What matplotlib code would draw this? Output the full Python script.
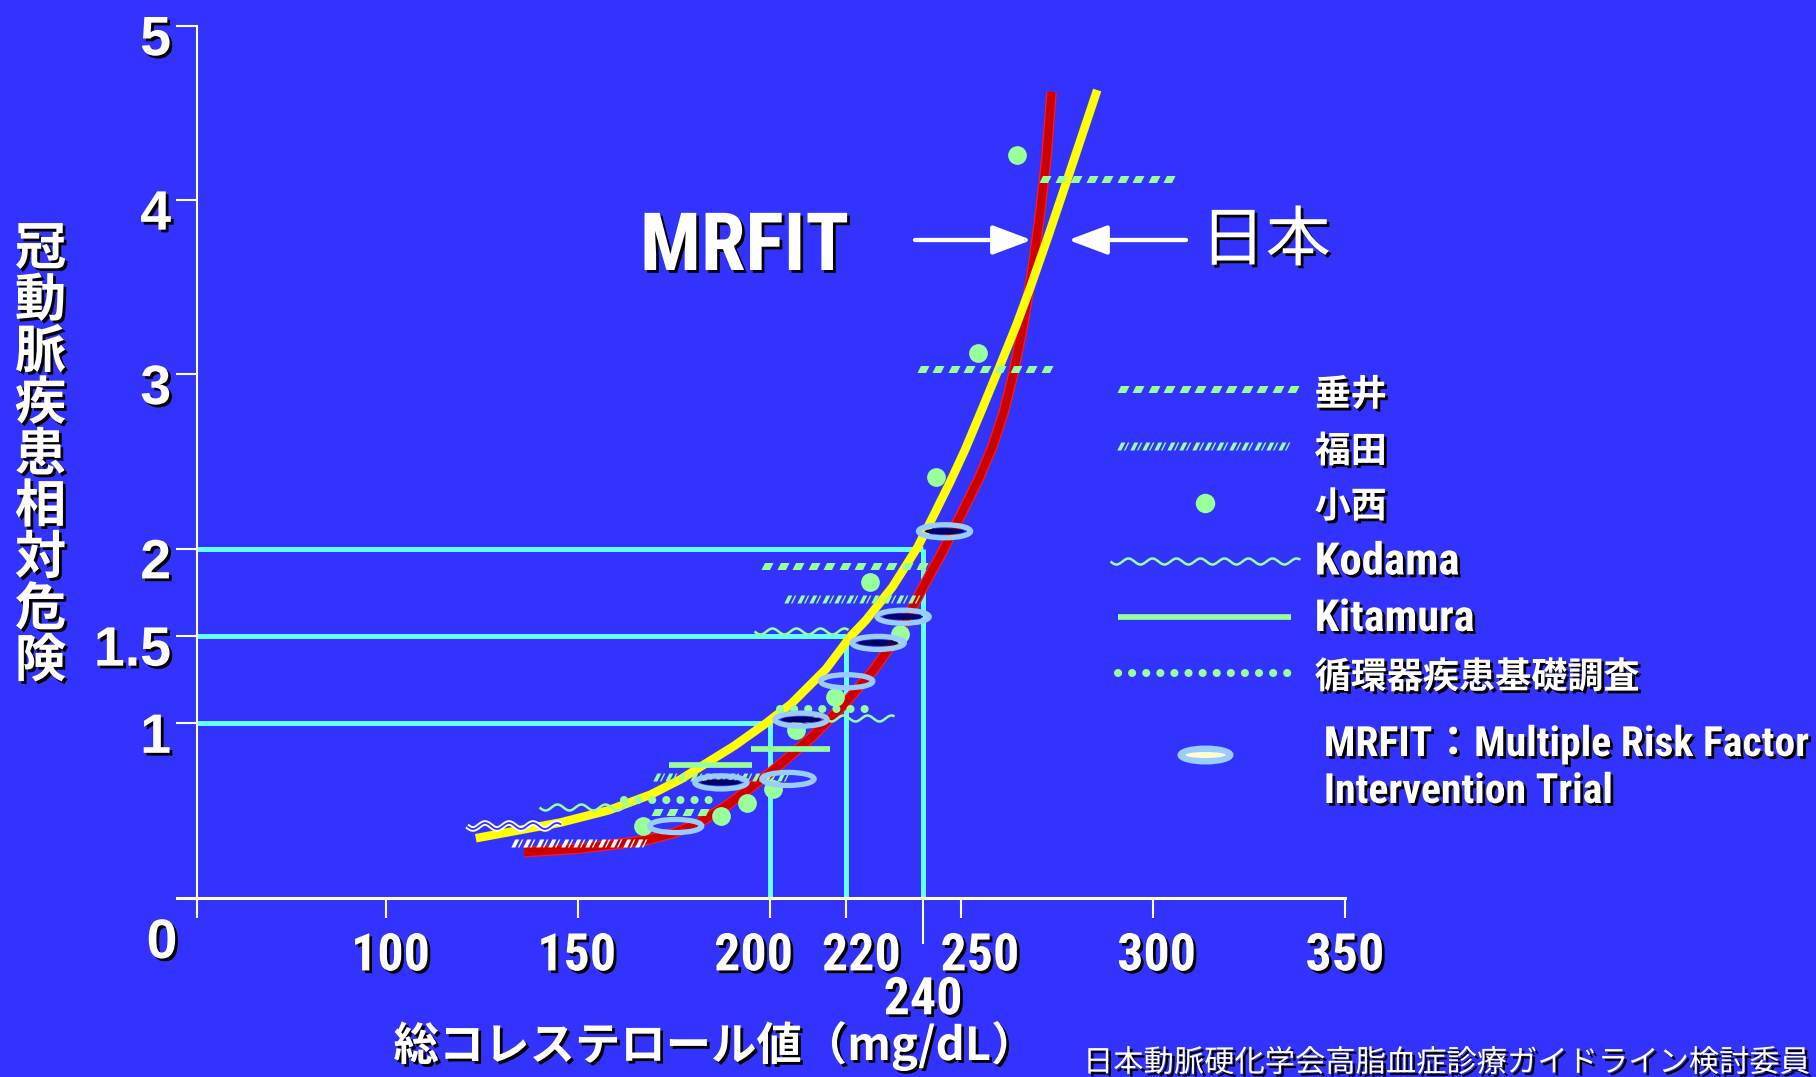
import numpy as np
import matplotlib
matplotlib.use("Agg")
import matplotlib.pyplot as plt
import matplotlib.patheffects as pe
from matplotlib import font_manager as fm
from matplotlib.patches import Ellipse, FancyArrowPatch
from matplotlib.path import Path
from matplotlib.transforms import ScaledTranslation

# -------------------------------
# data
# -------------------------------
# MRFIT curve (red)
mrfit_x = [136, 150, 160, 168, 175, 181, 189, 201, 211, 219.5, 227.3, 233.4, 240, 245, 250,
           254.5, 258, 261, 263.5, 266, 268.5, 270.5, 272.2, 273.5]
mrfit_y = [0.26, 0.28, 0.305, 0.33, 0.37, 0.42, 0.53, 0.73, 0.92, 1.11, 1.31, 1.50, 1.78, 1.98,
           2.20, 2.40, 2.58, 2.78, 3.00, 3.27, 3.60, 3.92, 4.25, 4.62]

# Japan curve (yellow)
japan_x = [123.4, 145.5, 158, 169, 177, 182, 190.8, 199.1, 205.6, 214.7, 221.2, 225.1, 232,
           238.6, 242.5, 247, 251, 255, 259.5, 264.3, 268, 272.6, 277.8, 285.4]
japan_y = [0.34, 0.43, 0.50, 0.59, 0.68, 0.75, 0.87, 1.0, 1.11, 1.31, 1.50, 1.59, 1.78,
           2.01, 2.18, 2.38, 2.57, 2.78, 3.02, 3.28, 3.50, 3.79, 4.13, 4.63]

# MRFIT groups (ellipses)
ring_x = [245.6, 234.8, 228.3, 220.1, 208.2, 204.8, 187.3, 175.5]
ring_y = [2.10, 1.61, 1.46, 1.24, 1.02, 0.68, 0.66, 0.41]
ring_filled = [True, True, True, False, True, False, True, False]

# 垂井
tarui_x0 = [269.8, 237.9, 197.3, 168.6]
tarui_x1 = [304.9, 273.2, 240.0, 183.4]
tarui_y = [4.12, 3.03, 1.90, 0.49]

# 福田 (last one drawn in white on the slide)
fukuda_x0 = [203.8, 169.5, 132.5]
fukuda_x1 = [239.5, 205.5, 169.0]
fukuda_y = [1.71, 0.69, 0.31]
fukuda_col = ["#99ff99", "#99ff99", "white"]

# 小西
konishi_x = [264.6, 254.4, 243.4, 226.2, 234.0, 217.1, 207.0, 200.8, 194.2, 187.3, 167.1]
konishi_y = [4.26, 3.12, 2.41, 1.81, 1.51, 1.15, 0.96, 0.62, 0.54, 0.47, 0.41]

# Kodama (last one white on the slide)
kodama_x0 = [196.0, 208.2, 139.8, 121.1]
kodama_x1 = [220.4, 232.4, 164.2, 145.5]
kodama_y = [1.53, 1.03, 0.52, 0.41]
kodama_col = ["#99ff99", "#99ff99", "#99ff99", "white"]

# Kitamura
kitamura_x0 = [195.2, 173.8]
kitamura_x1 = [215.7, 195.5]
kitamura_y = [0.85, 0.76]

# 循環器疾患基礎調査
junkan_x0 = [202.6, 162.1]
junkan_x1 = [228.0, 187.3]
junkan_y = [1.08, 0.56]

# reference lines
ref_chol = [200, 220, 240]
ref_rr = [1.0, 1.5, 2.0]

xticks = [100, 150, 200, 220, 250, 300, 350]
yticks = [1, 1.5, 2, 3, 4, 5]
ytick_labels = ["1", "1.5", "2", "3", "4", "5"]

# -------------------------------
# style
# -------------------------------
BG = "#3333ff"
GREEN = "#99ff99"
CYAN = "#66ffff"
RING = "#99ccff"
NAVY = "#000066"

_installed = {f.name for f in fm.fontManager.ttflist}
_cond = [n for n in ["Liberation Sans Narrow", "Arial Narrow", "Roboto Condensed",
                     "Noto Sans Condensed", "Open Sans Condensed"] if n in _installed]
NARROW = _cond[:1] + ["Liberation Sans", "Noto Sans CJK JP"]
ARIAL = ["Liberation Sans", "Noto Sans CJK JP"]
CJK = ["Noto Sans CJK JP", "DejaVu Sans"]
plt.rcParams["font.family"] = ARIAL

shadow = [pe.SimplePatchShadow(offset=(2, -2), shadow_rgbFace="black", alpha=1.0), pe.Normal()]

W, H = 1816, 1077
fig = plt.figure(figsize=(W / 100, H / 100), dpi=100, facecolor=BG)
ax = fig.add_axes([176.6 / W, 1 - 916.7 / H, (1345 - 176.6) / W, (916.7 - 25.5) / H])
ax.set_facecolor(BG)
ax.set_xlim(45.4, 350)
ax.set_ylim(-0.11, 5.0)
PX_PER_X = (1345 - 176.6) / (350 - 45.4)   # pixels per mg/dL

ax.spines["top"].set_visible(False)
ax.spines["right"].set_visible(False)
ax.spines["left"].set_position(("data", 50.7))
ax.spines["left"].set_color("white")
ax.spines["left"].set_linewidth(1.5)
ax.spines["bottom"].set_position(("data", 0))
ax.spines["bottom"].set_color("#ffffcc")
ax.spines["bottom"].set_linewidth(2.2)

ax.set_xticks(xticks)
ax.set_xticklabels([str(v) for v in xticks])
ax.set_xticks([240], minor=True)
ax.set_xticklabels(["240"], minor=True)
ax.set_yticks(yticks)
ax.set_yticklabels(ytick_labels)
ax.tick_params(axis="x", which="major", direction="out", length=14.4, width=1.5, color="white",
               pad=10, labelcolor="white", labelsize=38)
ax.tick_params(axis="x", which="minor", direction="out", length=33, width=1.5, color="white",
               pad=23, labelcolor="white", labelsize=38)
ax.tick_params(axis="y", direction="out", length=15, width=1.5, color="white",
               pad=3.6, labelcolor="white", labelsize=40)

# on the slide the crowded labels are nudged sideways (pixels)
xlabel_shift = [4.6, -1, -16, 15, 18.5, 3.5, 0]
xlabels = ax.get_xticklabels() + ax.get_xticklabels(minor=True)
for lbl, sh in zip(xlabels, xlabel_shift + [0]):
    lbl.set_fontfamily(NARROW)
    lbl.set_fontweight("bold")
    lbl.set_path_effects(shadow)
    lbl.set_transform(lbl.get_transform() + ScaledTranslation(sh / 100, 0, fig.dpi_scale_trans))
dy = ScaledTranslation(0, -7 / 72, fig.dpi_scale_trans)
for lbl in ax.get_yticklabels():
    lbl.set_fontweight("bold")
    lbl.set_path_effects(shadow)
    lbl.set_transform(lbl.get_transform() + dy)

# reference lines at 200/220/240
for c, r in zip(ref_chol, ref_rr):
    ax.plot([50.7, c], [r, r], color=CYAN, lw=3.6, solid_capstyle="butt", zorder=1)
    ax.plot([c, c], [0, r], color=CYAN, lw=3.6, solid_capstyle="butt", zorder=1)

# curves
ax.plot(mrfit_x, mrfit_y, color="#ff1a1a", lw=7.6, solid_capstyle="butt", solid_joinstyle="round", zorder=2)
ax.plot(mrfit_x, mrfit_y, color="#cc0000", lw=5.8, solid_capstyle="butt", solid_joinstyle="round", zorder=2)
ax.plot(japan_x, japan_y, color="#ffff00", lw=6.2, solid_capstyle="butt", solid_joinstyle="round", zorder=3)

# slash glyphs for the 垂井 / 福田 line styles (pixel units)
TARUI_MARK = Path([(-6, -3.5), (2.5, -3.5), (6, 3.5), (-2.5, 3.5), (-6, -3.5)],
                  [Path.MOVETO, Path.LINETO, Path.LINETO, Path.LINETO, Path.CLOSEPOLY])
FUKUDA_MARK = Path([(-6.2, -4), (-2.2, -4), (1.8, 4), (-2.2, 4), (-6.2, -4),
                    (0.4, -4), (1.9, -4), (5.9, 4), (4.4, 4), (0.4, -4)],
                   [Path.MOVETO, Path.LINETO, Path.LINETO, Path.LINETO, Path.CLOSEPOLY] * 2)


def slash_line(a, x0, x1, y, color, mark, size_px, step_px, ppx):
    xs = np.arange(x0 + step_px / 2 / ppx, x1, step_px / ppx)
    a.plot(xs, np.full(len(xs), y), ls="none", marker=mark, ms=size_px * 0.72,
           color=color, mec="none", zorder=4)


def tarui_mark(a, x0, x1, y, ppx):
    slash_line(a, x0, x1, y, GREEN, TARUI_MARK, 12, 15.5, ppx)


def fukuda_mark(a, x0, x1, y, color, ppx):
    slash_line(a, x0, x1, y, color, FUKUDA_MARK, 12.4, 12.4, ppx)


def kodama_mark(a, x0, x1, y, color):
    if color == "white":
        ln, = a.plot([x0, x1], [y, y], color="white", lw=4.0, solid_capstyle="butt", zorder=4)
        ln.set_sketch_params(scale=3, length=24, randomness=1)
        ln, = a.plot([x0, x1], [y, y], color=BG, lw=1.3, solid_capstyle="butt", zorder=4)
        ln.set_sketch_params(scale=3, length=24, randomness=1)
    else:
        ln, = a.plot([x0, x1], [y, y], color=color, lw=1.8, solid_capstyle="butt", zorder=4)
        ln.set_sketch_params(scale=3, length=24, randomness=1)


def junkan_mark(a, x0, x1, y):
    a.plot([x0, x1], [y, y], color=GREEN, lw=5.8, dashes=(0.01, 1.74), dash_capstyle="round", zorder=4)


def kitamura_mark(a, x0, x1, y):
    a.plot([x0, x1], [y, y], color=GREEN, lw=4.1, solid_capstyle="butt", zorder=4)


for x0, x1, y in zip(tarui_x0, tarui_x1, tarui_y):
    tarui_mark(ax, x0, x1, y, PX_PER_X)
for x0, x1, y, c in zip(fukuda_x0, fukuda_x1, fukuda_y, fukuda_col):
    fukuda_mark(ax, x0, x1, y, c, PX_PER_X)
for x0, x1, y, c in zip(kodama_x0, kodama_x1, kodama_y, kodama_col):
    kodama_mark(ax, x0, x1, y, c)
for x0, x1, y in zip(kitamura_x0, kitamura_x1, kitamura_y):
    kitamura_mark(ax, x0, x1, y)
for x0, x1, y in zip(junkan_x0, junkan_x1, junkan_y):
    junkan_mark(ax, x0, x1, y)

ax.plot(konishi_x, konishi_y, "o", ms=13.5, color=GREEN, mec="none", zorder=5)

for x, y, f in zip(ring_x, ring_y, ring_filled):
    ax.add_patch(Ellipse((x, y), 13.6, 0.075, fill=False, ec=RING, lw=3.8, zorder=6))
    if f:
        ax.add_patch(Ellipse((x, y), 10.4, 0.034, fc=NAVY, ec="none", zorder=6))

# -------------------------------
# overlay in pixel units: texts, arrows, legend
# -------------------------------
lax = fig.add_axes([0, 0, 1, 1], zorder=5)
lax.set_xlim(0, W)
lax.set_ylim(H, 0)
lax.axis("off")
lax.patch.set_visible(False)

for i, ch in enumerate("冠動脈疾患相対危険"):
    lax.text(40.5, 249 + i * 51.5, ch, ha="center", va="center", fontsize=37, fontweight="bold",
             family=CJK, color="white", path_effects=shadow)

lax.text(162, 944, "0", ha="center", va="center", fontsize=40, fontweight="bold",
         family=ARIAL, color="white", path_effects=shadow)
xlab = lax.text(715, 1046, "総コレステロール値（mg/dL）", ha="center", va="center", fontsize=34,
                fontweight="bold", family=CJK, color="white", path_effects=shadow)
src = lax.text(1083, 1063, "日本動脈硬化学会高脂血症診療ガイドライン検討委員", ha="left", va="center",
               fontsize=22.5, family=CJK, color="white", path_effects=shadow)

mrfit_t = lax.text(744.5, 270, "MRFIT", ha="center", va="baseline", fontsize=58, fontweight="bold",
                   family=NARROW, color="white", path_effects=shadow)
lax.text(1265.5, 242, "日本", ha="center", va="center", fontsize=47,
         family=CJK, color="white", path_effects=shadow)
for xa, xb in [(915, 1031.7), (1186, 1068.3)]:
    lax.add_patch(FancyArrowPatch((xa, 240), (xb, 240), arrowstyle="-|>,head_length=24,head_width=9",
                                  mutation_scale=1, color="white", lw=3.1, shrinkA=0, shrinkB=0))

# legend
tarui_mark(lax, 1115, 1294, 389, 1.0)
fukuda_mark(lax, 1117, 1292, 446, GREEN, 1.0)
lax.plot([1205], [503], "o", ms=14, color=GREEN, mec="none")
kodama_mark(lax, 1110, 1300, 561, GREEN)
kitamura_mark(lax, 1118, 1291, 617)
junkan_mark(lax, 1118, 1291, 673)
lax.add_patch(Ellipse((1205.5, 755), 51, 14, fc=RING, ec=RING, lw=3.6))
lax.add_patch(Ellipse((1205.5, 755), 40, 6, fc="#ffffcc", ec="none"))

cjk_kw = dict(ha="left", va="center", fontsize=26, fontweight="bold", family=CJK, color="white",
              path_effects=shadow)
lat_kw = dict(ha="left", va="baseline", fontsize=32, fontweight="bold", family=NARROW, color="white",
              path_effects=shadow)
lax.text(1314.6, 395, "垂井", **cjk_kw)
lax.text(1314.6, 451.7, "福田", **cjk_kw)
lax.text(1314.6, 507, "小西", **cjk_kw)
kod_t = lax.text(1314.6, 574.5, "Kodama", **lat_kw)
kit_t = lax.text(1314.6, 631, "Kitamura", **lat_kw)
lax.text(1314.6, 677.5, "循環器疾患基礎調査", **cjk_kw)
mr1_t = lax.text(1323.8, 756, "MRFIT：Multiple Risk Factor", **lat_kw)
mr2_t = lax.text(1323.8, 803, "Intervention Trial", **lat_kw)


# the slide uses a condensed face: size texts to the widths seen on it
def fit_width(texts, target_px):
    r = fig.canvas.get_renderer()
    w = texts[0].get_window_extent(r).width
    s = texts[0].get_fontsize() * target_px / w
    for t in texts:
        t.set_fontsize(s)


fit_width([xlabels[2]] + xlabels, 79)
fit_width([mrfit_t], 209)
fit_width([kod_t], 145)
fit_width([kit_t], 160)
fit_width([mr1_t, mr2_t], 486)
fit_width([xlab], 643)
fit_width([src], 727)

fig.savefig("out.png", dpi=100, facecolor=BG)
